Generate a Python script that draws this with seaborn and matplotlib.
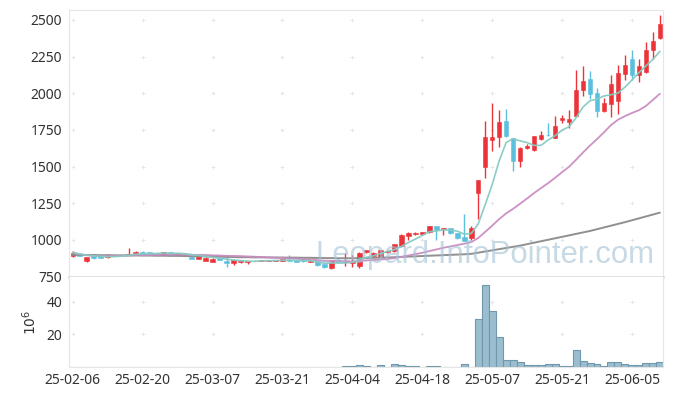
import numpy as np
import pandas as pd
import matplotlib
matplotlib.use("Agg")
import matplotlib.pyplot as plt
import seaborn as sns

# KRX trading days shown in the chart (market holidays removed)
holidays = ["2025-03-03", "2025-05-01", "2025-05-05", "2025-05-06", "2025-06-03", "2025-06-06"]
dates = pd.bdate_range("2025-02-06", "2025-06-12", freq="C", holidays=holidays)

opens = [889, 905, 855, 888, 888, 882, 895, 895, 896, 903,
         919, 918, 906, 898, 918, 899, 895, 884, 870, 858,
         852, 875, 858, 842, 847, 852, 858, 858, 858, 859,
         857, 866, 864, 867, 848, 856, 833, 806, 862, 850,
         845, 820, 917, 888, 883, 917, 921, 956, 1030, 1039,
         1040, 1054, 1094, 1072, 1078, 1044, 1020, 1015, 1323, 1500,
         1684, 1700, 1810, 1693, 1535, 1624, 1610, 1688, 1717, 1698,
         1818, 1806, 1845, 2020, 2096, 2002, 1878, 1930, 1946, 2135,
         2233, 2124, 2146, 2293, 2380]
highs = [925, 910, 885, 890, 889, 901, 899, 899, 946, 922,
         921, 920, 908, 920, 920, 910, 898, 886, 890, 881,
         874, 877, 895, 862, 860, 858, 860, 862, 863, 866,
         871, 895, 866, 869, 862, 858, 835, 866, 868, 910,
         900, 915, 934, 915, 933, 929, 975, 1040, 1052, 1052,
         1056, 1098, 1098, 1084, 1082, 1048, 1175, 1092, 1412, 1813,
         1936, 1886, 1891, 1697, 1632, 1652, 1712, 1743, 1796, 1845,
         1850, 1883, 2157, 2186, 2150, 2036, 1968, 2123, 2195, 2263,
         2293, 2232, 2350, 2418, 2532]
lows = [885, 888, 852, 873, 874, 880, 893, 894, 894, 901,
        904, 904, 903, 896, 903, 897, 893, 869, 868, 855,
        849, 862, 815, 826, 844, 836, 853, 856, 856, 856,
        855, 857, 848, 851, 846, 823, 808, 802, 840, 820,
        812, 808, 912, 884, 880, 914, 918, 952, 1000, 1036,
        1036, 1050, 1000, 1036, 1040, 1008, 992, 1000, 1141, 1420,
        1607, 1636, 1705, 1470, 1495, 1618, 1605, 1684, 1710, 1694,
        1800, 1765, 1838, 1980, 1963, 1836, 1870, 1838, 1857, 2089,
        2089, 2077, 2140, 2236, 2372]
closes = [913, 892, 883, 876, 877, 899, 897, 897, 902, 919,
          906, 906, 905, 918, 905, 908, 896, 871, 888, 879,
          872, 864, 840, 860, 857, 856, 855, 860, 861, 863,
          869, 859, 850, 853, 859, 826, 812, 863, 852, 858,
          852, 908, 930, 912, 930, 926, 970, 1036, 1048, 1047,
          1052, 1094, 1066, 1081, 1045, 1013, 995, 1083, 1408, 1700,
          1700, 1803, 1712, 1535, 1628, 1640, 1708, 1715, 1714, 1776,
          1830, 1823, 2020, 2082, 1992, 1882, 1933, 2062, 2138, 2195,
          2124, 2186, 2292, 2360, 2470]
# volume in millions of shares
volume = [0.1, 0.1, 0.3, 0.1, 0.1, 0.1, 0.1, 0.1, 0.1, 0.1,
          0.1, 0.1, 0.1, 0.1, 0.1, 0.1, 0.1, 0.1, 0.1, 0.1,
          0.1, 0.1, 0.3, 0.1, 0.1, 0.1, 0.1, 0.1, 0.1, 0.1,
          0.1, 0.1, 0.1, 0.1, 0.1, 0.1, 0.1, 0.1, 0.1, 0.6,
          0.6, 1.4, 0.6, 0.1, 1.0, 0.1, 2.0, 1.4, 0.4, 0.4,
          0.1, 0.4, 0.4, 0.1, 0.1, 0.1, 1.7, 0.3, 29.5, 50.2,
          34.7, 18.4, 4.3, 4.3, 2.9, 1.0, 1.0, 1.0, 1.7, 1.7,
          0.4, 0.4, 10.3, 3.5, 2.3, 1.7, 0.4, 2.9, 2.9, 1.7,
          1.0, 1.0, 2.3, 2.3, 2.9]
# long moving average (gray line)
ma_long = [898, 898, 897, 897, 896, 896, 895, 895, 894, 894,
           893, 893, 892, 892, 891, 891, 890, 889, 888, 887,
           886, 885, 884, 883, 882, 882, 881, 881, 880, 880,
           880, 879, 879, 878, 878, 877, 876, 876, 875, 875,
           875, 876, 877, 878, 879, 880, 882, 884, 886, 888,
           890, 892, 894, 896, 898, 900, 902, 905, 913, 921,
           929, 937, 945, 953, 961, 971, 981, 991, 1001, 1011,
           1021, 1031, 1041, 1051, 1061, 1073, 1085, 1097, 1109, 1121,
           1134, 1147, 1160, 1173, 1186]

price_ticks = [750, 1000, 1250, 1500, 1750, 2000, 2250, 2500]
volume_ticks = [20, 40]

UP = "#eb3339"
DOWN = "#5bc0de"

sns.set_theme(style="white")
plt.rcParams["font.family"] = ["Noto Sans", "DejaVu Sans"]

fig = plt.figure(figsize=(6.73, 3.96), dpi=100)
ax = fig.add_axes([0.103, 0.3005, 0.8817, 0.6742])
axv = fig.add_axes([0.103, 0.0732, 0.8817, 0.2273])

df = pd.DataFrame({"x": np.arange(len(dates)), "open": opens, "high": highs,
                   "low": lows, "close": closes, "volume": volume, "ma_long": ma_long})
df["ma5"] = df["close"].rolling(5, min_periods=1).mean()
df["ma20"] = df["close"].rolling(20, min_periods=1).mean()
colors = np.where(df["close"] >= df["open"], UP, DOWN)

# grid drawn as small crosses at tick intersections
xt = df["x"].values[::10]
gx, gy = np.meshgrid(xt, price_ticks[1:])
ax.scatter(gx.ravel(), gy.ravel(), marker="+", s=12, c="#e3e3e3", linewidths=0.6, zorder=0)
gx, gy = np.meshgrid(xt, volume_ticks)
axv.scatter(gx.ravel(), gy.ravel(), marker="+", s=12, c="#e3e3e3", linewidths=0.6, zorder=0)

# candles
ax.vlines(df["x"], df["low"], df["high"], colors=colors, lw=1.0, zorder=2)
body_lo = np.minimum(df["open"], df["close"])
body_h = np.maximum(np.abs(df["close"] - df["open"]), 2)
ax.bar(df["x"], body_h, bottom=body_lo, width=0.66, color=colors,
       edgecolor=colors, linewidth=0.4, zorder=3)

# moving averages
for col, color, lw in [("ma_long", "#8a8a8a", 1.4), ("ma20", "#c98cc1", 1.3), ("ma5", "#85cbc2", 1.2)]:
    sns.lineplot(data=df, x="x", y=col, ax=ax, color=color, lw=lw, alpha=0.95, zorder=4)

# volume
sns.barplot(data=df, x="x", y="volume", ax=axv, native_scale=True, width=1.0,
            color="#9bbecf", edgecolor="#6f97ad", linewidth=0.8, saturation=1,
            errorbar=None, zorder=2)

ax.set_xlim(-0.5, 84.4)
axv.set_xlim(-0.5, 84.4)
ax.set_ylim(747, 2568)
axv.set_ylim(0, 55.3)

ax.set_yticks(price_ticks)
ax.set_yticklabels([str(v) for v in price_ticks])
ax.set_xticks(xt)
ax.set_xticklabels([])
axv.set_yticks(volume_ticks)
axv.set_yticklabels([str(v) for v in volume_ticks])
axv.set_xticks(xt)
axv.set_xticklabels([d.strftime("%y-%m-%d") for d in dates[::10]])

for a in (ax, axv):
    a.set_xlabel("")
    a.set_ylabel("")
    a.tick_params(axis="both", length=0, labelsize=10, colors="#333333")
    a.tick_params(axis="y", pad=5)
    a.tick_params(axis="x", pad=4)
    for s in a.spines.values():
        s.set_color("#e6e6e6")
        s.set_linewidth(0.8)
ax.spines["bottom"].set_color("#d6d6d6")
ax.spines["bottom"].set_linewidth(1.8)
axv.spines["top"].set_visible(False)
axv.set_ylabel(r"$10^6$", fontsize=10, color="#333333", labelpad=5)

# watermark
wm = fig.text(315 / 673, 1 - 263.5 / 396, "Leopard.InfoPointer.com",
              family=["Liberation Sans", "DejaVu Sans"], fontsize=23,
              color="#a3c1d5", alpha=0.6, ha="left", va="baseline", zorder=10)
fig.canvas.draw()
w = wm.get_window_extent().width
wm.set_fontsize(23 * 340 / w)

fig.savefig("out.png", dpi=100)
